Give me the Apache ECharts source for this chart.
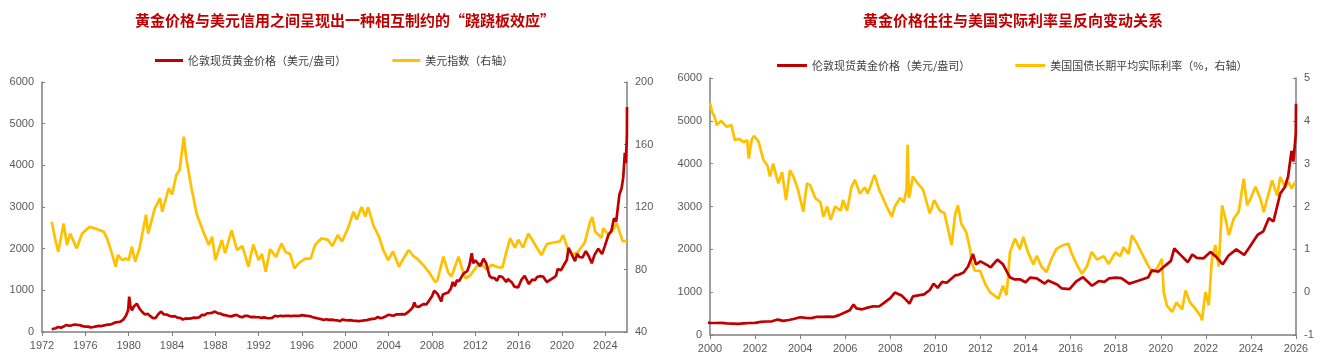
<!DOCTYPE html>
<html><head><meta charset="utf-8">
<script src="https://cdn.jsdelivr.net/npm/echarts@6/dist/echarts.min.js"></script>
<style>html,body{margin:0;padding:0;background:#fff}#c{width:1322px;height:364px}</style>
</head><body><div id="c"></div>
<script>
// ---- data ----
const leftTitle = '黄金价格与美元信用之间呈现出一种相互制约的“跷跷板效应”';
const rightTitle = '黄金价格往往与美国实际利率呈反向变动关系';
const goldName = '伦敦现货黄金价格（美元/盎司）';
const dxyName = '美元指数（右轴）';
const rateName = '美国国债长期平均实际利率（%，右轴）';

const goldYears = [1972.9,1973.25,1973.5,1973.75,1974.0,1974.25,1974.5,1974.75,1975.0,1975.25,1975.5,1975.75,1976.0,1976.25,1976.5,1976.75,1977.0,1977.25,1977.5,1977.75,1978.0,1978.25,1978.5,1978.75,1979.0,1979.25,1979.5,1979.75,1979.95,1980.05,1980.15,1980.3,1980.5,1980.75,1981.0,1981.25,1981.5,1981.75,1982.0,1982.25,1982.5,1982.75,1983.0,1983.25,1983.5,1983.75,1984.0,1984.25,1984.5,1984.75,1985.0,1985.25,1985.5,1985.75,1986.0,1986.25,1986.5,1986.75,1987.0,1987.25,1987.5,1987.75,1987.95,1988.25,1988.5,1988.75,1989.0,1989.25,1989.5,1989.75,1989.95,1990.25,1990.5,1990.75,1991.0,1991.25,1991.5,1991.75,1992.0,1992.25,1992.5,1992.75,1993.0,1993.25,1993.5,1993.75,1994.0,1994.25,1994.5,1994.75,1995.0,1995.25,1995.5,1995.75,1996.0,1996.25,1996.5,1996.75,1997.0,1997.25,1997.5,1997.75,1998.0,1998.25,1998.5,1998.75,1999.0,1999.25,1999.5,1999.75,2000.0,2000.25,2000.5,2000.75,2001.0,2001.25,2001.5,2001.75,2002.0,2002.25,2002.5,2002.75,2003.0,2003.25,2003.5,2003.75,2004.0,2004.25,2004.5,2004.75,2005.0,2005.25,2005.5,2005.75,2006.0,2006.2,2006.37,2006.5,2006.75,2007.0,2007.25,2007.5,2007.75,2008.0,2008.2,2008.5,2008.7,2008.85,2009.0,2009.3,2009.5,2009.75,2009.92,2010.1,2010.3,2010.5,2010.9,2011.0,2011.25,2011.45,2011.67,2011.8,2012.0,2012.3,2012.45,2012.75,2013.0,2013.3,2013.5,2013.75,2014.0,2014.2,2014.5,2014.85,2015.0,2015.4,2015.6,2015.95,2016.25,2016.55,2016.95,2017.25,2017.5,2017.7,2018.0,2018.25,2018.6,2018.9,2019.2,2019.45,2019.6,2019.9,2020.2,2020.45,2020.6,2020.9,2021.2,2021.4,2021.6,2021.9,2022.2,2022.45,2022.75,2023.0,2023.35,2023.7,2023.95,2024.3,2024.55,2024.8,2025.0,2025.3,2025.5,2025.65,2025.8,2025.88,2025.95,2025.99,2026.0];
const goldValues = [65,90,120,100,130,170,150,160,180,170,165,140,130,128,110,120,135,148,143,160,175,175,200,230,235,250,295,390,520,850,630,520,620,680,560,480,420,440,380,330,340,430,490,420,420,390,370,380,345,340,300,325,320,325,345,340,350,410,405,450,450,465,490,450,440,410,400,380,375,400,410,370,355,390,385,358,365,357,354,340,350,335,330,340,390,370,390,380,385,390,380,390,385,385,405,395,385,380,355,340,325,310,290,305,290,295,287,280,260,300,285,280,285,270,265,260,270,280,285,305,315,320,360,330,350,380,415,400,395,425,425,430,425,470,530,580,710,620,600,640,670,665,760,860,990,920,820,730,900,930,950,1050,1200,1100,1240,1220,1400,1400,1460,1600,1890,1650,1720,1630,1580,1760,1650,1350,1300,1300,1230,1340,1320,1200,1270,1180,1090,1070,1250,1350,1150,1260,1240,1320,1340,1330,1200,1250,1300,1350,1510,1480,1620,1730,2020,1860,1700,1880,1800,1790,1940,1830,1650,1850,2000,1870,2060,2340,2420,2730,2650,3300,3450,3700,4300,4050,4450,4700,5400];

const dxyYears = [1972.9,1973.2,1973.5,1974.0,1974.3,1974.6,1975.2,1975.7,1976.4,1977.0,1977.7,1978.0,1978.4,1978.8,1979.0,1979.4,1979.7,1980.0,1980.3,1980.6,1981.0,1981.6,1981.8,1982.4,1982.9,1983.1,1983.7,1984.0,1984.4,1984.7,1985.1,1985.3,1985.8,1986.3,1986.9,1987.4,1987.7,1988.0,1988.6,1988.9,1989.5,1990.0,1990.5,1991.05,1991.5,1992.0,1992.3,1992.65,1993.05,1993.6,1994.1,1994.5,1994.9,1995.3,1995.7,1996.3,1996.8,1997.2,1997.8,1998.4,1998.8,1999.3,1999.7,2000.3,2000.75,2001.05,2001.5,2001.85,2002.1,2002.6,2003.1,2003.5,2003.95,2004.4,2004.95,2005.4,2005.85,2006.3,2006.7,2007.3,2007.8,2008.3,2008.5,2009.05,2009.5,2009.8,2010.45,2010.75,2011.1,2011.5,2012.1,2012.55,2013.0,2013.5,2014.1,2014.5,2015.2,2015.66,2015.97,2016.4,2016.9,2017.5,2018.1,2018.6,2019.2,2019.8,2020.1,2020.55,2021.0,2021.5,2022.1,2022.6,2022.8,2023.05,2023.65,2023.8,2024.3,2024.7,2025.05,2025.3,2025.6,2026.0];
const dxyValues = [110.6,100,91.4,109.5,95.7,103,93.5,103,107.4,106,104.2,100,91.4,81.8,89.3,86,87,86,94.6,85,93.5,115,103,119,125.6,117,132,128,140.5,143.7,165,152,132,115,104,95.7,101,86,98.9,90.5,105,92.5,95,81.8,96,86,90,78.6,93,88,96.7,91,90,80.7,84,87,87,95.7,100,99,95,102,98,107.4,117,112,120,114,120,108,101,92.5,86,91.5,81.8,87.5,92.5,88.5,86.5,82,77.5,72,73,88.2,78,75.6,88.2,81,74.4,76,81.8,84,80,83,81.4,81.4,100,94,99,94,103,96,89.3,96.3,97.3,98,102,93,89.5,91.5,97.3,110.6,113.6,104.3,100.3,106.4,102.3,105.3,109.6,104.3,98.2,98.2];

const rateYears = [2000.0,2000.1,2000.2,2000.3,2000.5,2000.74,2000.95,2001.1,2001.3,2001.5,2001.65,2001.72,2001.85,2001.95,2002.15,2002.37,2002.55,2002.66,2002.8,2003.03,2003.2,2003.37,2003.55,2003.7,2003.9,2004.14,2004.3,2004.44,2004.67,2004.9,2005.03,2005.2,2005.35,2005.55,2005.8,2005.9,2006.08,2006.28,2006.43,2006.65,2006.87,2007.0,2007.3,2007.5,2007.84,2008.06,2008.2,2008.43,2008.6,2008.72,2008.77,2008.82,2008.87,2009.0,2009.2,2009.45,2009.75,2009.95,2010.2,2010.4,2010.72,2010.87,2011.0,2011.15,2011.37,2011.54,2011.6,2011.75,2011.98,2012.2,2012.42,2012.8,2013.0,2013.16,2013.31,2013.53,2013.75,2013.9,2014.1,2014.35,2014.5,2014.7,2014.93,2015.15,2015.37,2015.67,2015.9,2016.05,2016.27,2016.5,2016.72,2016.94,2017.17,2017.47,2017.69,2017.99,2018.2,2018.35,2018.57,2018.72,2018.94,2019.17,2019.4,2019.61,2019.83,2020.05,2020.13,2020.27,2020.5,2020.7,2020.95,2021.1,2021.3,2021.54,2021.76,2021.83,2021.98,2022.13,2022.27,2022.42,2022.57,2022.72,2022.87,2023.02,2023.24,2023.46,2023.68,2023.83,2023.98,2024.2,2024.42,2024.57,2024.72,2024.94,2025.17,2025.3,2025.52,2025.66,2025.81,2025.96];
const rateValues = [4.41,4.2,4.1,3.9,4.0,3.86,3.9,3.55,3.58,3.5,3.55,3.12,3.56,3.65,3.52,3.09,2.95,2.7,3.0,2.54,2.8,2.15,2.85,2.7,2.4,1.88,2.54,2.5,2.2,2.1,1.76,2.0,1.69,2.0,1.9,2.15,1.9,2.46,2.62,2.3,2.45,2.3,2.74,2.4,2.0,1.76,2.0,2.2,2.1,2.4,3.44,2.2,2.3,2.7,2.55,2.4,1.84,2.15,1.9,1.85,1.1,1.8,2.03,1.6,1.4,1.0,0.7,0.5,0.5,0.2,0.0,-0.15,0.15,-0.07,0.94,1.25,1.0,1.29,0.94,0.65,0.85,0.6,0.47,0.78,1.01,1.1,1.13,0.9,0.65,0.43,0.6,0.94,0.76,0.84,0.66,0.93,0.84,1.05,0.89,1.33,1.14,0.9,0.66,0.47,0.55,0.78,0.0,-0.31,-0.46,-0.24,-0.4,0.04,-0.24,-0.39,-0.55,-0.66,0.0,-0.31,0.78,1.1,0.6,2.03,1.72,1.33,1.72,1.88,2.65,2.03,2.18,2.46,2.18,1.87,2.18,2.61,2.25,2.69,2.46,2.58,2.42,2.58];

const zip = (a, b) => a.map((x, i) => [x, b[i]]);

// ---- chart ----
const RED = '#c00000', YEL = '#ffc000', AX = '#7f7f7f', LBL = '#595959';
const font = 'Liberation Sans, Arial, sans-serif';
const plain = v => String(v);
const axisCommon = {
  axisLine: {show: true, lineStyle: {color: AX, width: 1.5}},
  splitLine: {show: false}
};
function yAx(grid, pos, min, max, interval) {
  return Object.assign({}, axisCommon, {
    type: 'value', gridIndex: grid, position: pos, min, max, interval,
    axisTick: {show: true, inside: true, length: 3, lineStyle: {color: AX}},
    axisLabel: {color: LBL, fontSize: 11, fontFamily: font, formatter: plain}
  });
}
function xAx(grid, min, max, interval, showMax) {
  return Object.assign({}, axisCommon, {
    type: 'value', gridIndex: grid, min, max, interval,
    axisTick: {show: true, inside: false, length: 4, lineStyle: {color: AX}},
    axisLabel: {color: LBL, fontSize: 11, fontFamily: font, formatter: plain, showMaxLabel: showMax}
  });
}
const lineS = (name, x, y, data, color) => ({
  name, type: 'line', xAxisIndex: x, yAxisIndex: y, data, showSymbol: false,
  lineStyle: {color, width: 2.7}, itemStyle: {color}, clip: true
});
const titleStyle = {color: RED, fontSize: 15, fontWeight: 'bold', fontFamily: 'Noto Sans CJK SC'};
const legendStyle = {fontSize: 11, color: '#404040', fontFamily: 'Noto Sans CJK SC'};

const chart = echarts.init(document.getElementById('c'), null, {renderer: 'canvas'});
chart.setOption({
  animation: false,
  backgroundColor: '#fff',
  title: [
    {text: leftTitle, left: 340, top: 8, textAlign: 'center', textStyle: titleStyle},
    {text: rightTitle, left: 1008, top: 8, textAlign: 'center', textStyle: titleStyle}
  ],
  legend: [
    {left: 150, top: 50, icon: 'rect', itemWidth: 28, itemHeight: 3, itemGap: 46, textStyle: legendStyle,
     data: [goldName, dxyName]},
    {left: 772, top: 55, icon: 'rect', itemWidth: 30, itemHeight: 3, itemGap: 45, textStyle: legendStyle,
     data: [goldName, rateName]}
  ],
  grid: [
    {left: 42, top: 82, width: 585, height: 250},
    {left: 710, top: 78, width: 586, height: 257}
  ],
  xAxis: [xAx(0, 1972, 2026, 4, false), xAx(1, 2000, 2026, 2, true)],
  yAxis: [yAx(0, 'left', 0, 6000, 1000), yAx(0, 'right', 40, 200, 40),
          yAx(1, 'left', 0, 6000, 1000), yAx(1, 'right', -1, 5, 1)],
  series: [
    lineS(dxyName, 0, 1, zip(dxyYears, dxyValues), YEL),
    lineS(goldName, 0, 0, zip(goldYears, goldValues), RED),
    lineS(rateName, 1, 3, zip(rateYears, rateValues), YEL),
    lineS(goldName, 1, 2, zip(goldYears, goldValues), RED)
  ]
});
</script></body></html>
